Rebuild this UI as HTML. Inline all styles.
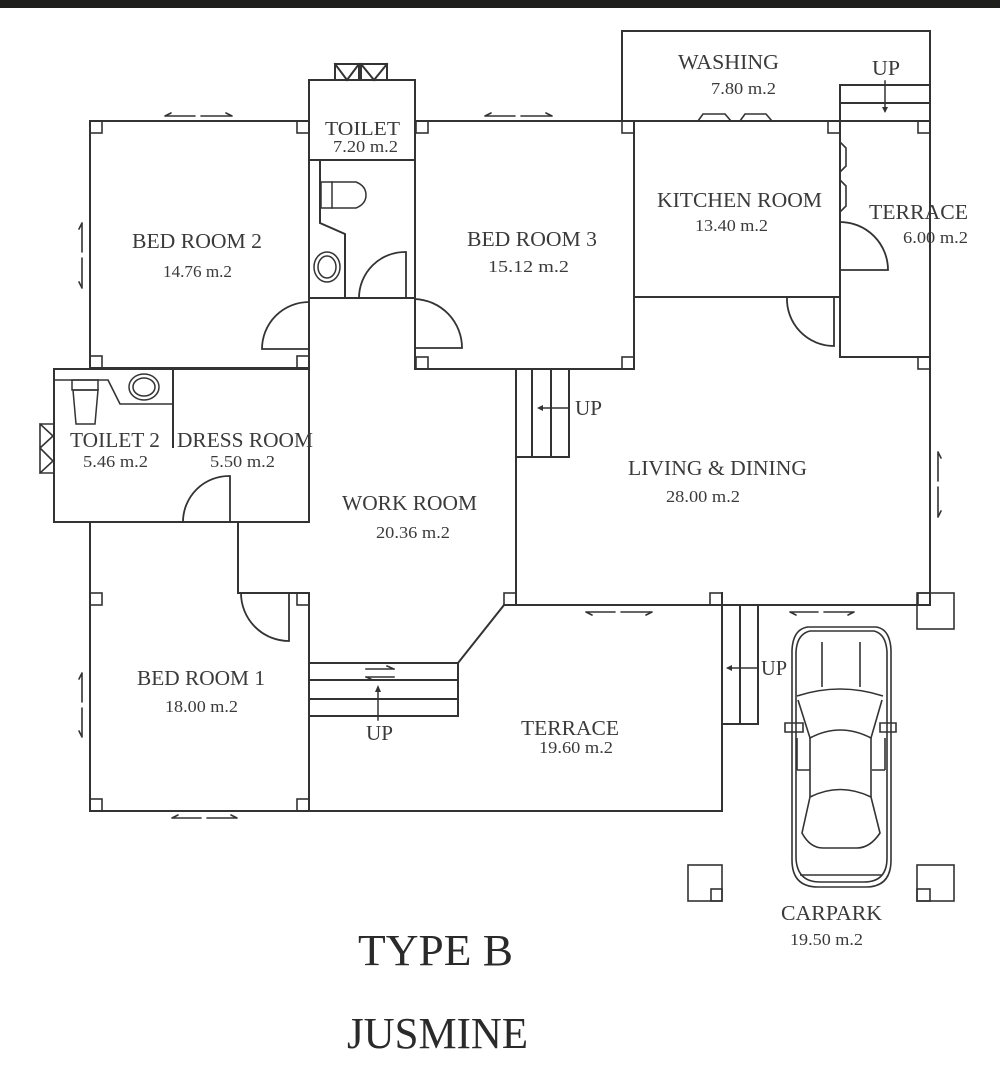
<!DOCTYPE html>
<html><head><meta charset="utf-8">
<style>
html,body{margin:0;padding:0;background:#fff;}
svg{display:block;}
text{font-family:"Liberation Serif",serif;fill:#3a3a3a;}
</style></head>
<body>
<svg width="1000" height="1065" viewBox="0 0 1000 1065" xmlns="http://www.w3.org/2000/svg">
<rect x="0" y="0" width="1000" height="1065" fill="#fff"/>
<rect x="0" y="0" width="1000" height="8" fill="#1f1f1d"/>

<g fill="none" stroke="#333" stroke-width="2" stroke-linecap="square">
<!-- Bed room 2 -->
<path d="M90,121 H309 M90,121 V368 M90,368 H309"/>
<!-- Toilet -->
<path d="M309,80 H415 M309,80 V522 M415,80 V369 M309,160 H415 M309,298 H415"/>
<path d="M320,160 V223 L345,234 V298"/>
<!-- windows above toilet -->
<path d="M335,64 H359 V80 H335 Z M335,64 L347,80 L359,64 M361,64 H387 V80 H361 Z M361,64 L374,80 L387,64"/>
<!-- Bed room 3 -->
<path d="M415,121 H634 M634,121 V369 M415,369 H634"/>
<!-- Washing -->
<path d="M622,31 H930 M622,31 V121 M930,31 V605 M634,121 H930"/>
<!-- Kitchen -->
<path d="M634,297 H840 M840,85 V357 M840,85 H930 M840,103 H930 M840,357 H930"/>
<!-- kitchen window bumps -->
<path d="M698,121 L703,114 H725 L731,121 M740,121 L745,114 H766 L772,121" stroke-width="1.6"/>
<path d="M840,142 L846,148 V166 L840,172 M840,180 L846,186 V206 L840,212" stroke-width="1.6"/>
<!-- Toilet 2 / dress -->
<path d="M54,369 H309 M54,369 V522 M54,522 H309 M173,369 V447"/>
<path d="M54,380 H108 L120,404 H173" stroke-width="1.6"/>
<path d="M40,424 H54 V473 H40 Z M40,424 L53,436 L40,448 M40,448 L53,461 L40,473" stroke-width="1.6"/>
<!-- work room / corridor -->
<path d="M238,522 V593 M238,593 H309 M90,522 V811 M309,593 V811 M516,369 V605"/>
<!-- Bed room 1 bottom & terrace -->
<path d="M90,811 H722 M722,593 V811 M504,605 H930"/>
<!-- Work room stairs -->
<path d="M309,663 H458 M309,680 H458 M309,699 H458 M309,716 H458 M458,663 V716 M458,663 L504,605"/>
<!-- Living stairs -->
<path d="M516,457 H569 V369 M532,369 V457 M551,369 V457"/>
<!-- Carpark stairs -->
<path d="M722,724 H758 V605 M740,605 V724"/>

<!-- columns -->
<g stroke-width="1.6">
<rect x="90" y="121" width="12" height="12"/>
<rect x="297" y="121" width="12" height="12"/>
<rect x="90" y="356" width="12" height="12"/>
<rect x="297" y="356" width="12" height="12"/>
<rect x="416" y="121" width="12" height="12"/>
<rect x="416" y="357" width="12" height="12"/>
<rect x="622" y="121" width="12" height="12"/>
<rect x="622" y="357" width="12" height="12"/>
<rect x="828" y="121" width="12" height="12"/>
<rect x="918" y="121" width="12" height="12"/>
<rect x="918" y="357" width="12" height="12"/>
<rect x="918" y="593" width="12" height="12"/>
<rect x="917" y="593" width="37" height="36"/>
<rect x="504" y="593" width="12" height="12"/>
<rect x="710" y="593" width="12" height="12"/>
<rect x="90" y="593" width="12" height="12"/>
<rect x="297" y="593" width="12" height="12"/>
<rect x="90" y="799" width="12" height="12"/>
<rect x="297" y="799" width="12" height="12"/>
<rect x="688" y="865" width="34" height="36"/>
<rect x="711" y="889" width="11" height="12"/>
<rect x="917" y="865" width="37" height="36"/>
<rect x="917" y="889" width="13" height="12"/>
</g>

<!-- doors -->
<g stroke-width="1.8">
<path d="M309,302 A47,47 0 0 0 262,349 H309"/>
<path d="M415,299 A49,49 0 0 1 462,348 H415"/>
<path d="M406,298 V252 A46,46 0 0 0 359,298"/>
<path d="M230,522 V476 A46,46 0 0 0 183,522"/>
<path d="M289,593 V641 A48,48 0 0 1 241,593"/>
<path d="M834,297 V346 A47,47 0 0 1 787,297"/>
<path d="M840,222 A48,48 0 0 1 888,270 H840"/>
</g>

<!-- toilet fixtures -->
<g stroke-width="1.5">
<rect x="321" y="182" width="11" height="26"/>
<path d="M332,182 H356 Q366,186 366,195 Q366,204 356,208 H332"/>
<ellipse cx="327" cy="267" rx="13" ry="15"/>
<ellipse cx="327" cy="267" rx="9" ry="11"/>
<rect x="72" y="380" width="26" height="10"/>
<path d="M73,390 H98 L95,424 H76 Z"/>
<ellipse cx="144" cy="387" rx="15" ry="13"/>
<ellipse cx="144" cy="387" rx="11" ry="9"/>
</g>

<!-- sliding window markers -->
<g stroke-width="1.6" stroke-linecap="round">
<path d="M165,116 H195 M165,116 l6,-3 M201,116 H232 M232,116 l-6,-3"/>
<path d="M485,116 H515 M485,116 l6,-3 M521,116 H552 M552,116 l-6,-3"/>
<path d="M82,223 V252 M82,223 l-3,6 M82,258 V288 M82,288 l-3,-6"/>
<path d="M82,673 V702 M82,673 l-3,6 M82,708 V737 M82,737 l-3,-6"/>
<path d="M172,818 H201 M172,818 l6,-3 M207,818 H237 M237,818 l-6,-3"/>
<path d="M586,612 H615 M586,612 l6,3 M621,612 H652 M652,612 l-6,3"/>
<path d="M790,612 H818 M790,612 l6,3 M824,612 H854 M854,612 l-6,3"/>
<path d="M938,452 V481 M938,452 l3,6 M938,487 V517 M938,517 l3,-6"/>
</g>

<!-- stair arrows -->
<g stroke-width="1.5">
<path d="M885,81 V111"/>
<path d="M569,408 H540"/>
<path d="M378,720 V688"/>
<path d="M758,668 H728"/>
<path d="M366,669 H394 M394,669 l-7,-3 M366,677 H394 M366,677 l7,3"/>
</g>
</g>
<g fill="#333">
<path d="M885,113 l-3,-6 h6 z"/>
<path d="M537,408 l6,-3 v6 z"/>
<path d="M378,685 l-3,7 h6 z"/>
<path d="M726,668 l6,-3 v6 z"/>
</g>

<!-- car -->
<g fill="none" stroke="#333" stroke-width="1.6">
<path d="M808,627 H876 Q890,629 891,650 V860 Q891,887 866,887 H818 Q792,887 792,860 V650 Q793,629 808,627 Z"/>
<path d="M810,631 H874 Q886,634 887,652 V858 Q887,882 864,882 H820 Q797,882 796,858 V652 Q797,634 810,631 Z"/>
<path d="M822,642 V687 M860,642 V687"/>
<path d="M797,696 Q840,682 883,696"/>
<path d="M798,700 L810,738 Q840,722 871,738 L882,700"/>
<path d="M785,723 H803 V732 H785 Z M880,723 H896 V732 H880 Z"/>
<path d="M810,738 V797 M871,738 V797"/>
<path d="M797,738 V770 M885,738 V770 M797,770 H810 M872,770 H885"/>
<path d="M810,797 Q840,782 871,797 L880,833 Q870,848 857,848 H823 Q810,848 802,833 Z"/>
<path d="M800,875 H882"/>
</g>

<!-- labels -->
<g font-size="21.5">
<text x="325" y="135" textLength="75" lengthAdjust="spacingAndGlyphs" font-size="20">TOILET</text>
<text x="132" y="248" textLength="130" lengthAdjust="spacingAndGlyphs">BED ROOM 2</text>
<text x="467" y="246" textLength="130" lengthAdjust="spacingAndGlyphs">BED ROOM 3</text>
<text x="678" y="69" textLength="101" lengthAdjust="spacingAndGlyphs">WASHING</text>
<text x="657" y="207" textLength="165" lengthAdjust="spacingAndGlyphs">KITCHEN ROOM</text>
<text x="869" y="219" textLength="99" lengthAdjust="spacingAndGlyphs">TERRACE</text>
<text x="872" y="75" textLength="28" lengthAdjust="spacingAndGlyphs">UP</text>
<text x="70" y="447" textLength="90" lengthAdjust="spacingAndGlyphs">TOILET 2</text>
<text x="177" y="447" textLength="136" lengthAdjust="spacingAndGlyphs">DRESS ROOM</text>
<text x="342" y="510" textLength="135" lengthAdjust="spacingAndGlyphs">WORK ROOM</text>
<text x="628" y="475" textLength="179" lengthAdjust="spacingAndGlyphs">LIVING &amp; DINING</text>
<text x="575" y="415" textLength="27" lengthAdjust="spacingAndGlyphs">UP</text>
<text x="137" y="685" textLength="128" lengthAdjust="spacingAndGlyphs">BED ROOM 1</text>
<text x="366" y="740" textLength="27" lengthAdjust="spacingAndGlyphs">UP</text>
<text x="521" y="735" textLength="98" lengthAdjust="spacingAndGlyphs">TERRACE</text>
<text x="761" y="675" textLength="26" lengthAdjust="spacingAndGlyphs">UP</text>
<text x="781" y="920" textLength="101" lengthAdjust="spacingAndGlyphs">CARPARK</text>
</g>
<g font-size="17" xml:space="preserve">
<text x="333" y="152" textLength="65" lengthAdjust="spacingAndGlyphs">7.20  m.2</text>
<text x="163" y="277" textLength="69" lengthAdjust="spacingAndGlyphs">14.76  m.2</text>
<text x="488" y="272" textLength="81" lengthAdjust="spacingAndGlyphs">15.12  m.2</text>
<text x="711" y="94" textLength="65" lengthAdjust="spacingAndGlyphs">7.80  m.2</text>
<text x="695" y="231" textLength="73" lengthAdjust="spacingAndGlyphs">13.40  m.2</text>
<text x="903" y="243" textLength="65" lengthAdjust="spacingAndGlyphs">6.00  m.2</text>
<text x="83" y="467" textLength="65" lengthAdjust="spacingAndGlyphs">5.46  m.2</text>
<text x="210" y="467" textLength="65" lengthAdjust="spacingAndGlyphs">5.50  m.2</text>
<text x="376" y="538" textLength="74" lengthAdjust="spacingAndGlyphs">20.36  m.2</text>
<text x="666" y="502" textLength="74" lengthAdjust="spacingAndGlyphs">28.00  m.2</text>
<text x="165" y="712" textLength="73" lengthAdjust="spacingAndGlyphs">18.00  m.2</text>
<text x="539" y="753" textLength="74" lengthAdjust="spacingAndGlyphs">19.60  m.2</text>
<text x="790" y="945" textLength="73" lengthAdjust="spacingAndGlyphs">19.50  m.2</text>
</g>
<g font-size="44" xml:space="preserve">
<text x="358" y="965" textLength="155" lengthAdjust="spacingAndGlyphs" style="fill:#2a2a2a">TYPE  B</text>
<text x="347" y="1048" textLength="181" lengthAdjust="spacingAndGlyphs" style="fill:#2a2a2a">JUSMINE</text>
</g>
</svg>
</body></html>
